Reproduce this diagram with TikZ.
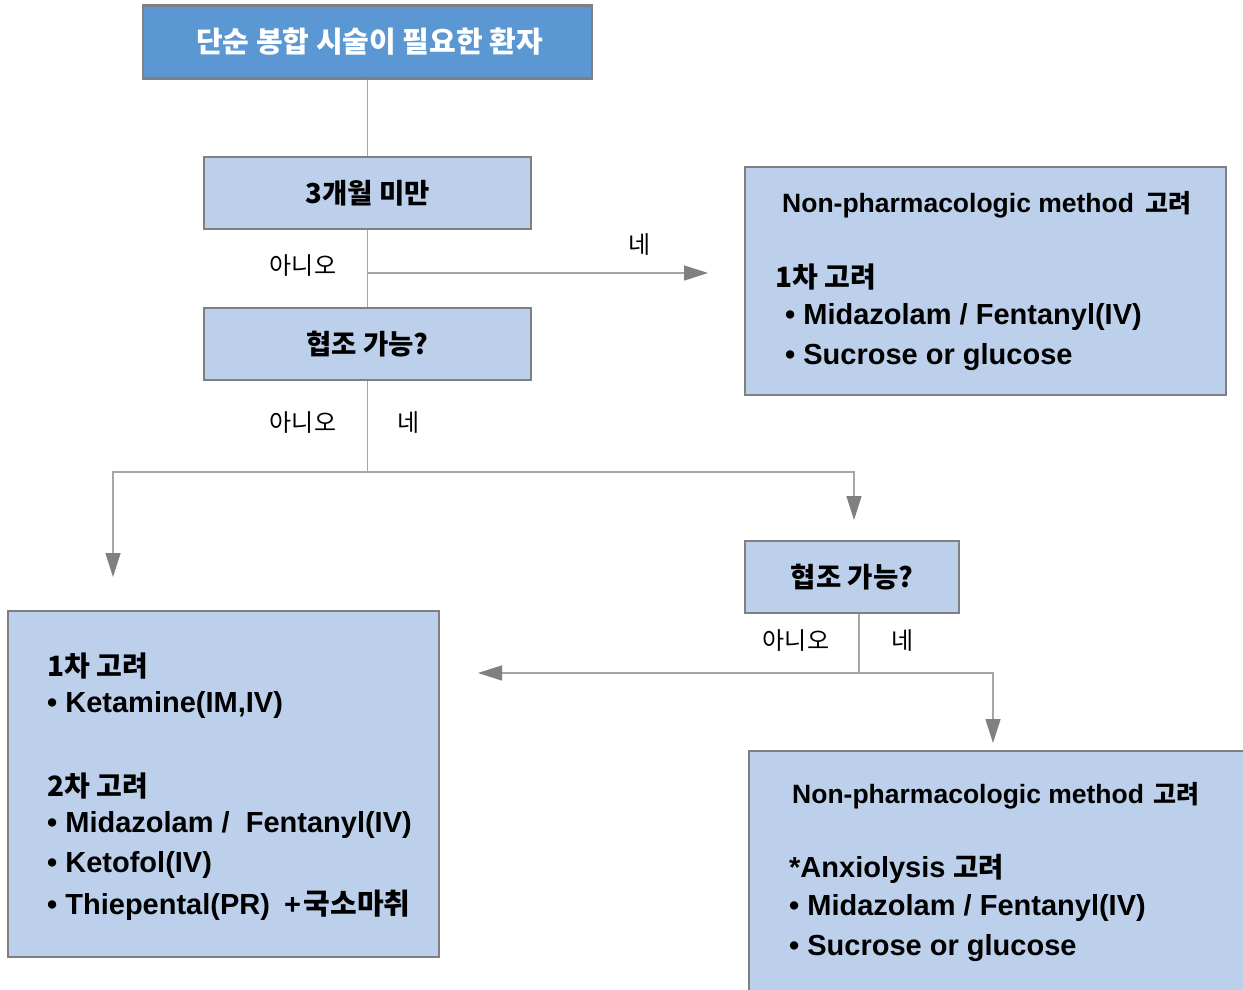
\documentclass[tikz,border=0pt]{standalone}
\usepackage{fontspec}
\setmainfont{Liberation Sans}
\newfontfamily\kr{Noto Sans CJK KR}
\usetikzlibrary{arrows.meta}
\definecolor{hdr}{HTML}{5B97D3}
\definecolor{lb}{HTML}{BDD0EB}
\definecolor{bd}{HTML}{808080}
\definecolor{ln}{HTML}{A6A6A6}
\definecolor{tipc}{HTML}{808080}
\newcommand{\fs}[1]{\fontsize{#1}{#1}\selectfont}
\tikzset{
  box/.style={draw=bd, line width=2.5pt, fill=lb, inner sep=0pt},
  conn/.style={draw=ln, line width=1.5pt},
  arr/.style={conn, -{Triangle[length=24pt,width=15pt,fill=tipc,color=tipc]}},
  lbl/.style={font=\fs{24}\kr, text=black, inner sep=0pt},
  item/.style={anchor=west, inner sep=0pt, font=\fs{29}\bfseries},
  head/.style={anchor=west, inner sep=0pt, font=\fs{26.5}\bfseries},
  khead/.style={anchor=west, inner sep=0pt, font=\fs{28}\kr\bfseries},
}
\begin{document}
\begin{tikzpicture}[x=1pt,y=-1pt]
\clip (0,0) rectangle (1243,990);
\fill[white] (0,0) rectangle (1243,990);

% boxes
\node[box, fill=hdr, minimum width=449pt, minimum height=73pt, text=white, font=\fs{29}\kr\bfseries] (top) at (367.5,42) {\hspace{4pt}단순 봉합 시술이 필요한 환자};
\node[box, minimum width=327pt, minimum height=72pt, font=\fs{27.5}\kr\bfseries] (b3m) at (367.5,193) {3개월 미만};
\node[box, minimum width=327pt, minimum height=72pt, font=\fs{27.5}\kr\bfseries] (coop1) at (367.5,344) {협조 가능?};
\node[box, minimum width=481pt, minimum height=228pt] (r1) at (985.5,281) {};
\node[box, minimum width=214pt, minimum height=72pt, font=\fs{27.5}\kr\bfseries] (coop2) at (852,577) {협조 가능?};
\node[box, minimum width=431pt, minimum height=346pt] (lft) at (223.5,784) {};
\node[box, minimum width=502pt, minimum height=248pt] (r2) at (1000,875) {};

% texts right box 1
\node[head] (r1a) at (782,205) {Non-pharmacologic method\hspace{4pt} {\kr\fs{25}고려}};
\node[khead] (r1b) at (775,277) {1차 고려};
\node[item] (r1c) at (785,317) {• Midazolam / Fentanyl(IV)};
\node[item] (r1d) at (785,357) {• Sucrose or glucose};

% texts left box
\node[khead] (l1) at (47,666) {1차 고려};
\node[item] (l2) at (47,705) {• Ketamine(IM,IV)};
\node[khead] (l3) at (47,786) {2차 고려};
\node[item] (l4) at (47,825) {• Midazolam /\hspace{8pt} Fentanyl(IV)};
\node[item] (l5) at (47,865) {• Ketofol(IV)};
\node[item] (l6) at (47,905) {• Thiepental(PR)\hspace{14pt}+\hspace{3pt}{\kr\fs{29}국소마취}};

% texts right box 2
\node[head] (r2a) at (792,796) {Non-pharmacologic method\hspace{2pt} {\kr\fs{25}고려}};
\node[item] (r2b) at (789,869) {*Anxiolysis {\kr\fs{27.5}고려}};
\node[item] (r2c) at (789,908) {• Midazolam / Fentanyl(IV)};
\node[item] (r2d) at (789,948) {• Sucrose or glucose};

% labels
\node[lbl] (n1) at (303,266) {아니오};
\node[lbl] (y1) at (640,245) {네};
\node[lbl] (n2) at (303,423) {아니오};
\node[lbl] (y2) at (409,423) {네};
\node[lbl] (n3) at (796,641) {아니오};
\node[lbl] (y3) at (903,641) {네};

% connectors
\coordinate (j1) at (367.5,273);
\coordinate (e1) at (708,273);
\coordinate (j2) at (367.5,472);
\coordinate (e2) at (113,577);
\coordinate (e3) at (854,520);
\coordinate (j3) at (859,673);
\coordinate (e4) at (478,673);
\coordinate (e5) at (993,743);

\draw[conn] (top.south) -- (b3m.north);
\draw[conn] (b3m.south) -- (coop1.north);
\draw[arr] (j1) -- (e1);
\draw[conn] (coop1.south) -- (j2);
\draw[arr] (j2) -| (e2);
\draw[arr] (j2) -| (e3);
\draw[conn] (coop2.south -| j3) -- (j3);
\draw[arr] (j3) -- (e4);
\draw[arr] (j3) -| (e5);
\end{tikzpicture}
\end{document}
